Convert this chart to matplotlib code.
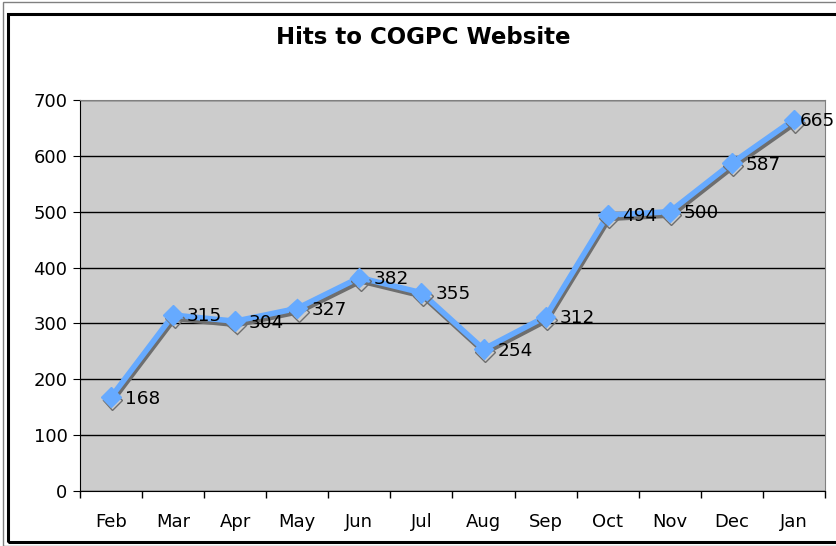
"""Hits to COGPC Website - line chart."""
import numpy as np
import matplotlib.pyplot as plt
import matplotlib.patheffects as pe
from matplotlib.patches import Rectangle

months = ["Feb", "Mar", "Apr", "May", "Jun", "Jul",
          "Aug", "Sep", "Oct", "Nov", "Dec", "Jan"]
hits = [168, 315, 304, 327, 382, 355, 254, 312, 494, 500, 587, 665]

W, H = 837, 546
fig = plt.figure(figsize=(W / 100, H / 100), dpi=100)
fig.patch.set_facecolor("white")

# outer chart frame (thin outer line + thick black inner border)
fig.patches.append(Rectangle((3 / W, 0), 2, (H - 2) / H, transform=fig.transFigure,
                             fill=False, ec="#808080", lw=1))
fig.patches.append(Rectangle((8 / W, 1 - 542 / H), 2, (542 - 14) / H,
                             transform=fig.transFigure, fill=False,
                             ec="black", lw=2.2))

ax = fig.add_axes([80 / W, 1 - 491 / H, (825 - 80) / W, (491 - 100) / H])
ax.set_facecolor("#cccccc")

x = np.arange(len(months))
shadow = [pe.SimpleLineShadow(offset=(1.0, -2.4), shadow_color="#6e6e6e", alpha=1.0),
          pe.Normal()]
ax.plot(x, hits, color="#66aaff", lw=4.0, marker="D", ms=10,
        markeredgecolor="#66aaff", solid_joinstyle="miter",
        path_effects=shadow, zorder=3, clip_on=False)

for i, v in enumerate(hits):
    # last label sits against the right edge, as in the original
    dx = 4.5 if i == len(hits) - 1 else 10
    ax.annotate(str(v), (x[i], v), xytext=(dx, -1), textcoords="offset points",
                ha="left", va="center", fontsize=13.3, color="black", zorder=4)

ax.set_xlim(-0.5, len(months) - 0.5)
ax.set_ylim(0, 700)
ax.set_yticks(np.arange(0, 701, 100))
ax.set_xticks(x)
ax.set_xticklabels(months)
ax.set_xticks(np.arange(-0.5, len(months), 1), minor=True)
ax.tick_params(axis="x", which="major", length=0, pad=16, labelsize=13)
ax.tick_params(axis="x", which="minor", length=5, direction="out", width=1)
ax.tick_params(axis="y", length=5, direction="out", labelsize=13, pad=4)
ax.grid(axis="y", color="black", lw=1)
ax.set_axisbelow(True)

for s in ["top", "right"]:
    ax.spines[s].set_color("#808080")
for s in ["left", "bottom"]:
    ax.spines[s].set_color("black")

fig.text(423 / W, 1 - 38 / H, "Hits to COGPC Website",
         ha="center", va="center", fontsize=16.5, fontweight="bold")

fig.savefig("out.png", dpi=100)
